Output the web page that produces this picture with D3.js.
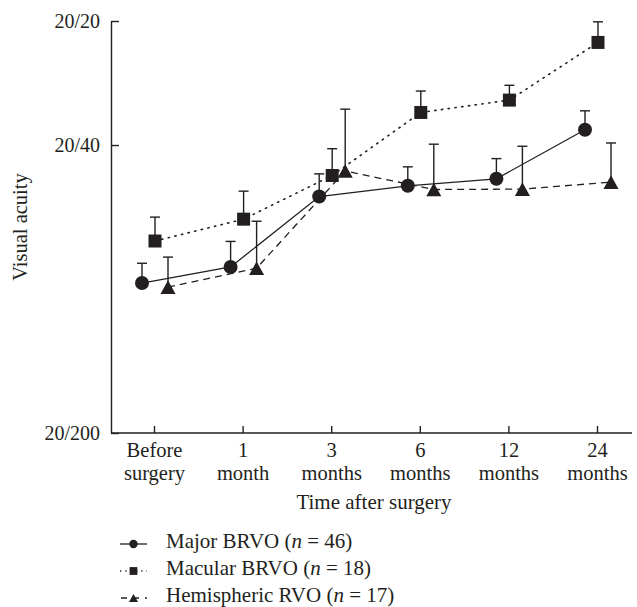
<!DOCTYPE html>
<html>
<head>
<meta charset="utf-8">
<script src="https://cdn.jsdelivr.net/npm/d3@7"></script>
<style>
  body { margin: 0; background: #fff; }
  svg text { font-family: "Liberation Serif", "DejaVu Serif", serif; fill: #231f20; }
</style>
</head>
<body>
<div id="chart"></div>
<script>
// time points along the x axis
const categories = ['before', 'm1', 'm3', 'm6', 'm12', 'm24']
const tickLabels = [['Before', 'surgery'], ['1', 'month'], ['3', 'months'], ['6', 'months'], ['12', 'months'], ['24', 'months']]

// visual acuity as logMAR (0 = 20/20, 1 = 20/200), error bar height above the mean
const majorMean = [0.636, 0.597, 0.426, 0.400, 0.383, 0.264]
const majorErr = [0.048, 0.062, 0.055, 0.046, 0.049, 0.046]
const macularMean = [0.534, 0.481, 0.375, 0.222, 0.192, 0.052]
const macularErr = [0.058, 0.068, 0.065, 0.052, 0.036, 0.050]
const hemiMean = [0.646, 0.600, 0.364, 0.409, 0.408, 0.391]
const hemiErr = [0.073, 0.114, 0.150, 0.110, 0.104, 0.095]

const yTickValues = [0, Math.log10(2), 1]
const yTickLabels = ['20/20', '20/40', '20/200']

const width = 637,
    height = 607
const ink = '#231f20'

const svg = d3.select('#chart')
    .append('svg')
    .attr('width', width)
    .attr('height', height)

const x = d3.scalePoint().domain(categories).range([154, 597])
const y = d3.scaleLinear().domain([0, 1]).range([21, 433])

// y axis, ticks pointing inward
const yAxis = svg.append('g')
    .attr('transform', 'translate(111,0)')
    .call(d3.axisLeft(y)
        .tickValues(yTickValues)
        .tickFormat((d, i) => yTickLabels[i])
        .tickSize(-8)
        .tickSizeOuter(0)
        .tickPadding(11))
yAxis.select('.domain').attr('stroke', ink).attr('stroke-width', 1.4)
yAxis.selectAll('.tick line').attr('stroke', ink).attr('stroke-width', 1.4)
yAxis.selectAll('.tick text')
    .attr('font-size', 20)
    .attr('font-family', '"Liberation Serif", serif')
    .attr('fill', ink)
    .attr('dy', '0.32em')

// x axis: ticks inward, line runs past the last category
const xAxis = svg.append('g')
    .attr('transform', 'translate(0,433)')
    .call(d3.axisBottom(x).tickSize(-7).tickSizeOuter(0).tickPadding(0))
xAxis.select('.domain').remove()
xAxis.append('line')
    .attr('x1', 111).attr('x2', 632)
    .attr('stroke', ink).attr('stroke-width', 1.4)
xAxis.selectAll('.tick line').attr('stroke', ink).attr('stroke-width', 1.4)
xAxis.selectAll('.tick text').each(function (d, i) {
    const t = d3.select(this)
    t.text(null)
        .attr('y', 0).attr('dy', null)
        .attr('font-size', 20.5)
        .attr('font-family', '"Liberation Serif", serif')
        .attr('fill', ink)
    tickLabels[i].forEach((line, j) => {
        t.append('tspan').attr('x', 0).attr('y', 24 + j * 22.5).text(line)
    })
})

svg.append('text')
    .attr('x', 374)
    .attr('y', 509)
    .attr('text-anchor', 'middle')
    .attr('font-size', 21)
    .text('Time after surgery')

svg.append('text')
    .attr('transform', 'translate(27,227) rotate(-90)')
    .attr('text-anchor', 'middle')
    .attr('font-size', 20.5)
    .text('Visual acuity')

const series = [
    { name: 'Major BRVO', n: 46, mean: majorMean, err: majorErr, shift: -12, dash: null, marker: 'circle' },
    { name: 'Macular BRVO', n: 18, mean: macularMean, err: macularErr, shift: 1, dash: '1.3,5.5', marker: 'square' },
    { name: 'Hemispheric RVO', n: 17, mean: hemiMean, err: hemiErr, shift: 14, dash: '7,5', marker: 'triangle' }
]

function drawMarker(g, type, cx, cy, s) {
    if (type === 'circle') {
        g.append('circle').attr('cx', cx).attr('cy', cy).attr('r', 7 * s).attr('fill', ink)
    } else if (type === 'square') {
        const h = 6.5 * s
        g.append('rect').attr('x', cx - h).attr('y', cy - h).attr('width', 2 * h).attr('height', 2 * h).attr('fill', ink)
    } else {
        const w = 7.5 * s, h = 6.8 * s
        g.append('path')
            .attr('d', `M${cx},${cy - h}L${cx + w},${cy + h}L${cx - w},${cy + h}Z`)
            .attr('fill', ink)
    }
}

const plot = svg.append('g')

series.forEach(s => {
    const pts = categories.map((c, i) => ({ x: x(c) + s.shift, y: y(s.mean[i]), top: y(s.mean[i] - s.err[i]) }))
    const g = plot.append('g')
    // error bars go up only
    pts.forEach(p => {
        g.append('line').attr('x1', p.x).attr('x2', p.x).attr('y1', p.y).attr('y2', p.top)
            .attr('stroke', ink).attr('stroke-width', 1.4)
        g.append('line').attr('x1', p.x - 5).attr('x2', p.x + 5).attr('y1', p.top).attr('y2', p.top)
            .attr('stroke', ink).attr('stroke-width', 1.4)
    })
    g.append('path')
        .datum(pts)
        .attr('d', d3.line().x(d => d.x).y(d => d.y))
        .attr('fill', 'none')
        .attr('stroke', ink)
        .attr('stroke-width', s.dash === '1.3,5.5' ? 1.6 : 1.3)
        .attr('stroke-dasharray', s.dash)
        .attr('stroke-linecap', s.dash === '1.3,5.5' ? 'round' : 'butt')
    pts.forEach(p => drawMarker(g, s.marker, p.x, p.y, 1))
})

// legend
const legend = svg.append('g')
series.forEach((s, i) => {
    const ly = 544 + i * 27
    const row = legend.append('g')
    row.append('line')
        .attr('x1', 120).attr('x2', 147).attr('y1', ly).attr('y2', ly)
        .attr('stroke', ink).attr('stroke-width', 1.3)
        .attr('stroke-dasharray', s.marker === 'square' ? '1.3,4' : s.marker === 'triangle' ? '6,6' : null)
        .attr('stroke-dashoffset', s.marker === 'triangle' ? -1 : 0)
    drawMarker(row, s.marker, 133.5, ly, 0.6)
    const t = row.append('text').attr('x', 166).attr('y', ly + 4).attr('font-size', 21)
    t.append('tspan').text(s.name + ' (')
    t.append('tspan').attr('font-style', 'italic').text('n')
    t.append('tspan').text(' = ' + s.n + ')')
})
</script>
</body>
</html>
